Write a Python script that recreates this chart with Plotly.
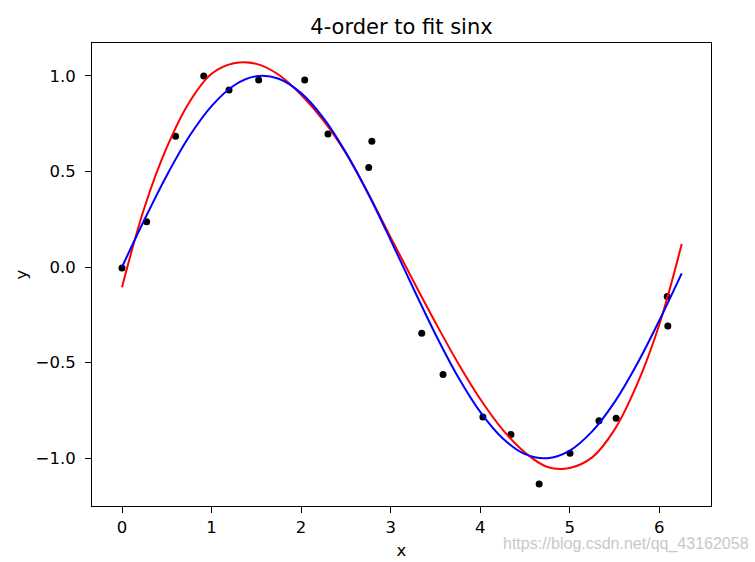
import plotly.graph_objects as go

# ---- data ----
sample_x = [0.0, 0.275, 0.598, 0.913, 1.195, 1.526, 2.04, 2.30, 2.755, 2.79,
            3.347, 3.585, 4.03, 4.343, 4.658, 5.003, 5.326, 5.518, 6.088, 6.095]
sample_y = [-0.005, 0.237, 0.683, 0.998, 0.925, 0.977, 0.977, 0.696, 0.520, 0.657,
            -0.346, -0.562, -0.784, -0.875, -1.134, -0.973, -0.804, -0.791, -0.154, -0.308]

curve_x = [0.0, 0.25, 0.5, 0.75, 1.0, 1.25, 1.5, 1.75, 2.0, 2.25, 2.5, 2.75, 3.0,
           3.25, 3.5, 3.75, 4.0, 4.25, 4.5, 4.75, 5.0, 5.25, 5.5, 5.75, 6.0, 6.25]

# red: 4-order polynomial fit
fit_y = [-0.105, 0.31, 0.625, 0.86, 1.01, 1.065, 1.062, 1.005, 0.90, 0.765, 0.595,
         0.385, 0.155, -0.07, -0.29, -0.50, -0.69, -0.85, -0.97, -1.045, -1.05,
         -0.995, -0.85, -0.615, -0.30, 0.12]

# blue: sin x
sin_y = [0.000, 0.247, 0.479, 0.682, 0.841, 0.949, 0.997, 0.984, 0.909, 0.778,
         0.598, 0.382, 0.141, -0.108, -0.351, -0.572, -0.757, -0.895, -0.978,
         -0.999, -0.959, -0.859, -0.706, -0.508, -0.279, -0.033]

x_ticks = [0, 1, 2, 3, 4, 5, 6]
y_ticks = [-1.0, -0.5, 0.0, 0.5, 1.0]

title_text = "4-order to fit sinx"
watermark = "https://blog.csdn.net/qq_43162058"

FONT = "DejaVu Sans"

fig = go.Figure()
fig.add_trace(go.Scatter(x=sample_x, y=sample_y, mode="markers",
                         marker=dict(color="black", size=7), showlegend=False))
fig.add_trace(go.Scatter(x=curve_x, y=fit_y, mode="lines",
                         line=dict(color="#ff0000", width=2, shape="spline"),
                         showlegend=False))
fig.add_trace(go.Scatter(x=curve_x, y=sin_y, mode="lines",
                         line=dict(color="#0000ff", width=2, shape="spline"),
                         showlegend=False))

axis_common = dict(showline=True, linecolor="black", linewidth=1, mirror=True,
                   ticks="outside", ticklen=6, tickwidth=1, tickcolor="black",
                   showgrid=False, zeroline=False, automargin=False,
                   tickfont=dict(family=FONT, size=16.5, color="black"))

fig.update_xaxes(range=[-0.335, 6.577], tickvals=x_ticks,
                 ticktext=[str(v) for v in x_ticks],
                 title=dict(text="x", font=dict(family=FONT, size=16.5, color="black"),
                            standoff=8),
                 **axis_common)
fig.update_yaxes(range=[-1.249, 1.171], tickvals=y_ticks, tickformat=".1f",
                 ticklabelstandoff=6,
                 title=dict(text="y", font=dict(family=FONT, size=16.5, color="black"),
                            standoff=3),
                 **axis_common)

fig.update_layout(
    width=755, height=562,
    margin=dict(l=92, r=44, t=43, b=56),
    paper_bgcolor="white", plot_bgcolor="white",
    title=dict(text=title_text, x=0.5, xanchor="center", y=1 - 27 / 562,
               yanchor="middle", xref="paper",
               font=dict(family=FONT, size=21, color="black")),
    annotations=[dict(text=watermark, xref="paper", yref="paper",
                      x=1 + 40 / 619, y=-(544 - 506) / 463,
                      xanchor="right", yanchor="middle", showarrow=False,
                      font=dict(family="Liberation Sans", size=16, color="#c8c8c8"))],
)

fig.write_html("out.html", config={"displayModeBar": False},
               post_script="document.body.style.margin='0';document.body.style.padding='0';")
